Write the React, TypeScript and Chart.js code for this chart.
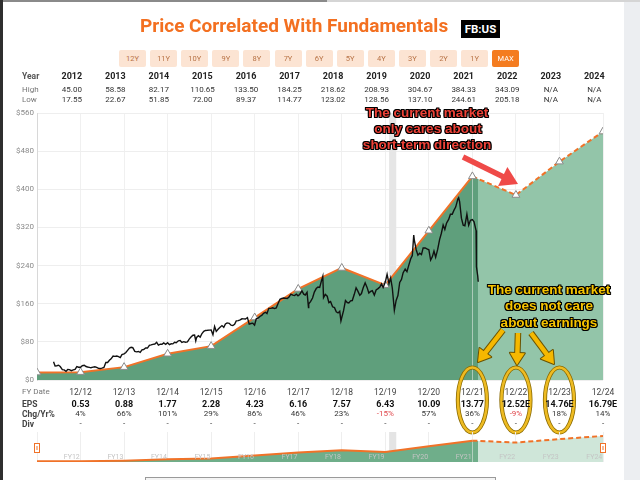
import React, { useEffect, useRef, useState } from 'react';
import { Chart, registerables } from 'chart.js';

Chart.register(...registerables);
Chart.defaults.font.family = 'Roboto';

// ---------- data ----------
const fyDates = ['2011-12-31', '2012-12-31', '2013-12-31', '2014-12-31', '2015-12-31', '2016-12-31', '2017-12-31', '2018-12-31', '2019-12-31', '2020-12-31', '2021-12-31', '2022-12-31', '2023-12-31', '2024-12-31'];
const fairValue = [15.5, 16.5, 27, 55, 71, 131, 191, 235, 199, 313, 427, 388, 458, 521];
const lastActualIndex = 10; // 12/21: solid until here, dashed (estimates) after

const years = ['2012', '2013', '2014', '2015', '2016', '2017', '2018', '2019', '2020', '2021', '2022', '2023', '2024'];
const highs = ['45.00', '58.58', '82.17', '110.65', '133.50', '184.25', '218.62', '208.93', '304.67', '384.33', '343.09', 'N/A', 'N/A'];
const lows = ['17.55', '22.67', '51.85', '72.00', '89.37', '114.77', '123.02', '128.56', '137.10', '244.61', '205.18', 'N/A', 'N/A'];
const fyLabels = ['12/12', '12/13', '12/14', '12/15', '12/16', '12/17', '12/18', '12/19', '12/20', '12/21', '12/22', '12/23', '12/24'];
const epsValues = ['0.53', '0.88', '1.77', '2.28', '4.23', '6.16', '7.57', '6.43', '10.09', '13.77', '12.52E', '14.76E', '16.79E'];
const chgValues = ['4%', '66%', '101%', '29%', '86%', '46%', '23%', '-15%', '57%', '36%', '-9%', '18%', '14%'];
const divValues = ['-', '-', '-', '-', '-', '-', '-', '-', '-', '-', '-', '-', '-'];
const navLabels = ['FY12', 'FY13', 'FY14', 'FY15', 'FY16', 'FY17', 'FY18', 'FY19', 'FY20', 'FY21', 'FY22', 'FY23', 'FY24'];
const rangeButtons = ['12Y', '11Y', '10Y', '9Y', '8Y', '7Y', '6Y', '5Y', '4Y', '3Y', '2Y', '1Y', 'MAX'];
const yTickValues = [0, 80, 160, 240, 320, 400, 480, 560];
const bandRange = ['2020-02-01', '2020-04-01'];

const priceDates = [
  '2012-05-18', '2012-05-31', '2012-06-15', '2012-06-29', '2012-07-13', '2012-07-31', '2012-08-15', '2012-08-31', '2012-09-14', '2012-09-28', '2012-10-15', '2012-10-31', '2012-11-15', '2012-11-30', '2012-12-14', '2012-12-31',
  '2013-01-15', '2013-01-31', '2013-02-15', '2013-02-28', '2013-03-15', '2013-03-28', '2013-04-15', '2013-04-30', '2013-05-15', '2013-05-31', '2013-06-14', '2013-06-28', '2013-07-15', '2013-07-31', '2013-08-15', '2013-08-30', '2013-09-13', '2013-09-30', '2013-10-15', '2013-10-31', '2013-11-15', '2013-11-29', '2013-12-13', '2013-12-31',
  '2014-01-15', '2014-01-31', '2014-02-14', '2014-02-28', '2014-03-14', '2014-03-31', '2014-04-15', '2014-04-30', '2014-05-15', '2014-05-30', '2014-06-13', '2014-06-30', '2014-07-15', '2014-07-31', '2014-08-15', '2014-08-29', '2014-09-15', '2014-09-30', '2014-10-15', '2014-10-31', '2014-11-14', '2014-11-28', '2014-12-15', '2014-12-31',
  '2015-01-15', '2015-01-30', '2015-02-13', '2015-02-27', '2015-03-13', '2015-03-31', '2015-04-15', '2015-04-30', '2015-05-15', '2015-05-29', '2015-06-15', '2015-06-30', '2015-07-15', '2015-07-31', '2015-08-14', '2015-08-24', '2015-08-31', '2015-09-15', '2015-09-30', '2015-10-15', '2015-10-30', '2015-11-13', '2015-11-30', '2015-12-15', '2015-12-31',
  '2016-01-15', '2016-01-29', '2016-02-12', '2016-02-29', '2016-03-15', '2016-03-31', '2016-04-15', '2016-04-29', '2016-05-13', '2016-05-31', '2016-06-15', '2016-06-30', '2016-07-15', '2016-07-29', '2016-08-15', '2016-08-31', '2016-09-15', '2016-09-30', '2016-10-14', '2016-10-31', '2016-11-15', '2016-11-30', '2016-12-15', '2016-12-30',
  '2017-01-13', '2017-01-31', '2017-02-15', '2017-02-28', '2017-03-15', '2017-03-31', '2017-04-13', '2017-04-28', '2017-05-15', '2017-05-31', '2017-06-15', '2017-06-30', '2017-07-14', '2017-07-31', '2017-08-15', '2017-08-31', '2017-09-15', '2017-09-29', '2017-10-13', '2017-10-31', '2017-11-15', '2017-11-30', '2017-12-15', '2017-12-29',
  '2018-01-12', '2018-01-31', '2018-02-15', '2018-02-28', '2018-03-15', '2018-03-27', '2018-03-29', '2018-04-13', '2018-04-30', '2018-05-15', '2018-05-31', '2018-06-15', '2018-06-29', '2018-07-13', '2018-07-25', '2018-07-31', '2018-08-15', '2018-08-31', '2018-09-14', '2018-09-28', '2018-10-15', '2018-10-31', '2018-11-15', '2018-11-30', '2018-12-14', '2018-12-24', '2018-12-31',
  '2019-01-15', '2019-01-31', '2019-02-15', '2019-02-28', '2019-03-15', '2019-03-29', '2019-04-15', '2019-04-30', '2019-05-15', '2019-05-31', '2019-06-14', '2019-06-28', '2019-07-15', '2019-07-31', '2019-08-15', '2019-08-30', '2019-09-13', '2019-09-30', '2019-10-15', '2019-10-31', '2019-11-15', '2019-11-29', '2019-12-13', '2019-12-31',
  '2020-01-15', '2020-01-31', '2020-02-14', '2020-02-28', '2020-03-16', '2020-03-31', '2020-04-15', '2020-04-30', '2020-05-15', '2020-05-29', '2020-06-15', '2020-06-30', '2020-07-15', '2020-07-31', '2020-08-14', '2020-08-26', '2020-08-31', '2020-09-15', '2020-09-30', '2020-10-15', '2020-10-30', '2020-11-13', '2020-11-30', '2020-12-15', '2020-12-31',
  '2021-01-15', '2021-01-29', '2021-02-12', '2021-02-26', '2021-03-15', '2021-03-31', '2021-04-15', '2021-04-30', '2021-05-14', '2021-05-28', '2021-06-15', '2021-06-30', '2021-07-15', '2021-07-30', '2021-08-13', '2021-08-31', '2021-09-07', '2021-09-15', '2021-09-30', '2021-10-15', '2021-10-29', '2021-11-15', '2021-11-30', '2021-12-15', '2021-12-31',
  '2022-01-14', '2022-01-31', '2022-02-03', '2022-02-14', '2022-02-18',
];
const priceValues = [
  38.2, 29.6, 30.0, 31.1, 28.3, 21.7, 21.2, 18.1, 22.0, 21.7, 19.5, 21.1, 22.2, 28.0, 26.8, 26.6,
  30.1, 31.0, 28.3, 27.3, 26.6, 25.6, 26.9, 27.8, 26.6, 24.4, 24.0, 24.9, 26.3, 36.8, 36.6, 41.3, 44.3, 50.2, 49.5, 50.2, 49.0, 47.0, 53.3, 54.7,
  57.6, 62.6, 67.1, 68.5, 67.7, 60.2, 59.1, 59.8, 57.9, 63.3, 63.9, 67.3, 67.0, 72.7, 73.6, 74.8, 75.4, 79.0, 73.0, 75.0, 74.9, 77.7, 74.7, 78.0,
  74.1, 75.9, 75.7, 79.0, 78.1, 82.2, 83.0, 78.8, 80.4, 79.2, 79.8, 85.8, 90.0, 94.0, 94.2, 82.1, 89.4, 92.9, 89.9, 97.5, 102.0, 103.9, 104.2, 104.6, 104.7,
  95.0, 112.2, 102.0, 106.9, 110.5, 114.1, 110.5, 117.6, 119.8, 118.8, 114.9, 114.3, 116.9, 123.9, 124.4, 126.1, 128.4, 128.3, 127.9, 131.0, 117.2, 118.4, 119.2, 115.1,
  128.3, 130.3, 133.8, 135.5, 139.7, 142.1, 139.4, 150.3, 150.2, 151.5, 149.8, 151.0, 160.0, 169.3, 171.0, 172.0, 171.6, 170.9, 173.7, 180.1, 177.9, 177.2, 180.2, 176.5,
  179.4, 186.9, 180.0, 178.3, 183.9, 152.2, 159.8, 164.5, 172.0, 184.3, 191.8, 195.1, 194.3, 207.3, 217.5, 172.6, 179.5, 175.7, 162.3, 164.5, 153.5, 151.8, 143.2, 140.6, 144.1, 124.1, 131.1,
  145.4, 166.7, 162.5, 161.5, 166.0, 166.7, 179.7, 193.4, 186.3, 177.5, 181.3, 193.0, 203.9, 194.2, 182.6, 185.7, 187.2, 178.1, 188.9, 191.7, 195.1, 201.6, 194.1, 205.3,
  221.8, 201.9, 214.2, 192.5, 146.0, 166.8, 177.0, 204.7, 210.9, 225.1, 232.5, 227.1, 240.3, 253.7, 261.2, 303.9, 293.2, 273.7, 261.9, 265.9, 263.1, 277.0, 277.0, 275.0, 273.2,
  251.4, 258.3, 270.5, 257.6, 273.8, 294.5, 307.8, 325.1, 315.9, 328.7, 336.8, 347.7, 347.6, 356.3, 362.7, 379.4, 382.2, 373.9, 339.4, 324.8, 323.6, 347.6, 324.5, 334.9, 336.4,
  331.9, 313.3, 237.8, 217.7, 206.2,
];

// ---------- helpers ----------
function toYear(d: string): number {
  const [y, m, day] = d.split('-').map(Number);
  const s = Date.UTC(y, 0, 1);
  const e = Date.UTC(y + 1, 0, 1);
  return y + (Date.UTC(y, m - 1, day) - s) / (e - s);
}
const X_MIN = toYear(fyDates[0]);
const X_MAX = toYear(fyDates[fyDates.length - 1]);
const LAST_PRICE_X = toYear(priceDates[priceDates.length - 1]);

const ORANGE = '#f07228';

const splitFill = (dark: string, light: string) => (ctx: any) => {
  const chart = ctx.chart;
  const area = chart.chartArea;
  if (!area) return dark;
  const cut = chart.scales.x.getPixelForValue(LAST_PRICE_X);
  const t = Math.min(1, Math.max(0, (cut - area.left) / (area.right - area.left)));
  const g = chart.ctx.createLinearGradient(area.left, 0, area.right, 0);
  g.addColorStop(0, dark);
  g.addColorStop(t, dark);
  g.addColorStop(t, light);
  g.addColorStop(1, light);
  return g;
};

const bandPlugin = (color: string) => ({
  id: 'band',
  beforeDatasetsDraw(chart: any) {
    const { ctx, chartArea: a, scales } = chart;
    const x0 = scales.x.getPixelForValue(toYear(bandRange[0]));
    const x1 = scales.x.getPixelForValue(toYear(bandRange[1]));
    ctx.save();
    ctx.fillStyle = color;
    ctx.fillRect(x0, a.top, x1 - x0, a.bottom - a.top);
    ctx.restore();
  },
});

function drawArrow(ctx: CanvasRenderingContext2D, x0: number, y0: number, x1: number, y1: number, color: string, width: number, head: number, outline?: string) {
  const ang = Math.atan2(y1 - y0, x1 - x0);
  const bx = x1 - head * Math.cos(ang);
  const by = y1 - head * Math.sin(ang);
  const hw = head * 0.62;
  const shaft = () => {
    ctx.beginPath();
    ctx.moveTo(x0, y0);
    ctx.lineTo(bx + Math.cos(ang), by + Math.sin(ang));
  };
  const headPath = () => {
    ctx.beginPath();
    ctx.moveTo(x1, y1);
    ctx.lineTo(bx + hw * Math.sin(ang), by - hw * Math.cos(ang));
    ctx.lineTo(bx - hw * Math.sin(ang), by + hw * Math.cos(ang));
    ctx.closePath();
  };
  ctx.save();
  ctx.lineCap = 'butt';
  ctx.lineJoin = 'round';
  if (outline) {
    ctx.strokeStyle = outline;
    ctx.lineWidth = width + 2;
    shaft();
    ctx.stroke();
    ctx.lineWidth = 2;
    headPath();
    ctx.stroke();
  }
  ctx.strokeStyle = color;
  ctx.lineWidth = width;
  shaft();
  ctx.stroke();
  ctx.fillStyle = color;
  headPath();
  ctx.fill();
  ctx.restore();
}

const annotationPlugin = {
  id: 'annotations',
  afterDraw(chart: any) {
    const { ctx, scales } = chart;
    // ellipses around 12/21, 12/22, 12/23 columns
    [10, 11, 12].forEach((i) => {
      const cx = scales.x.getPixelForValue(toYear(fyDates[i]));
      ctx.save();
      ctx.beginPath();
      ctx.ellipse(cx, 400, 14.5, 32.5, 0, 0, Math.PI * 2);
      ctx.strokeStyle = '#8a6a00';
      ctx.lineWidth = 4.2;
      ctx.stroke();
      ctx.strokeStyle = '#eebb22';
      ctx.lineWidth = 2.6;
      ctx.stroke();
      ctx.restore();
    });
    // red arrow
    drawArrow(ctx, 463, 157, 518, 184, '#ef4a48', 5.5, 17);
    // yellow arrows
    drawArrow(ctx, 503, 330, 478, 362, '#f5b800', 4.5, 12, '#6a5200');
    drawArrow(ctx, 518, 333, 517, 365, '#f5b800', 4.5, 12, '#6a5200');
    drawArrow(ctx, 531, 333, 554, 364, '#f5b800', 4.5, 12, '#6a5200');
  },
};

const handlesPlugin = {
  id: 'handles',
  afterDraw(chart: any) {
    const { ctx, chartArea: a } = chart;
    [a.left, a.right].forEach((x: number) => {
      ctx.save();
      ctx.fillStyle = '#fff';
      ctx.strokeStyle = ORANGE;
      ctx.lineWidth = 1;
      ctx.fillRect(x - 3, 18, 6, 10);
      ctx.strokeRect(x - 2.5, 18.5, 5, 9);
      ctx.beginPath();
      ctx.moveTo(x, 21);
      ctx.lineTo(x, 25);
      ctx.stroke();
      ctx.restore();
    });
  },
};

const outline = '0 0 1px #000, 1px 1px 0 #000, -1px -1px 0 #000, 1px -1px 0 #000, -1px 1px 0 #000, 0 1px 0 #000, 0 -1px 0 #000, 1px 0 0 #000, -1px 0 0 #000';

const C = ({ x, y, children, style }: any) => (
  <div style={{ position: 'absolute', left: x, top: y, transform: 'translate(-50%, -50%)', whiteSpace: 'nowrap', lineHeight: 1, ...style }}>{children}</div>
);
const L = ({ x, y, children, style }: any) => (
  <div style={{ position: 'absolute', left: x, top: y, transform: 'translateY(-50%)', whiteSpace: 'nowrap', lineHeight: 1, ...style }}>{children}</div>
);

export default function App() {
  const mainRef = useRef<HTMLCanvasElement>(null);
  const navRef = useRef<HTMLCanvasElement>(null);
  const [cols, setCols] = useState<number[]>([]);
  const [yearCols, setYearCols] = useState<number[]>([]);

  useEffect(() => {
    document.body.style.margin = '0';
    const priceData = priceDates.map((d, i) => ({ x: toYear(d), y: priceValues[i] }));
    const fairData = () => fyDates.map((d, i) => ({ x: toYear(d), y: fairValue[i] }));
    const dash = (c: any) => (c.p0DataIndex >= lastActualIndex ? [5, 3] : undefined);
    const fyTicks = (scale: any) => {
      scale.ticks = fyDates.map((d) => ({ value: toYear(d) }));
    };

    const main = new Chart(mainRef.current as HTMLCanvasElement, {
      type: 'line',
      data: {
        datasets: [
          {
            label: 'Price',
            data: priceData,
            borderColor: '#111',
            borderWidth: 1.4,
            pointRadius: 0,
            fill: false,
            tension: 0,
            order: 0,
          },
          {
            label: 'Fair value',
            data: fairData(),
            borderColor: ORANGE,
            borderWidth: 2,
            pointStyle: 'triangle',
            pointRadius: 4.5,
            pointBackgroundColor: '#fff',
            pointBorderColor: '#8a8a8a',
            pointBorderWidth: 1,
            fill: 'origin',
            backgroundColor: splitFill('#5f9f7c', '#93c5a9'),
            segment: { borderDash: dash },
            tension: 0,
            order: 1,
          } as any,
        ],
      },
      options: {
        animation: false,
        responsive: false,
        maintainAspectRatio: false,
        events: [],
        layout: { padding: { left: 8, right: 37, top: 113, bottom: 100 } },
        plugins: { legend: { display: false }, tooltip: { enabled: false } },
        scales: {
          x: {
            type: 'linear',
            min: X_MIN,
            max: X_MAX,
            afterBuildTicks: fyTicks,
            ticks: { display: false },
            grid: { color: '#f0f0f0', drawTicks: false },
            border: { display: false },
            afterFit: (s: any) => { s.height = 0; },
          },
          y: {
            min: 0,
            max: 560,
            afterBuildTicks: (s: any) => { s.ticks = yTickValues.map((v) => ({ value: v })); },
            ticks: { callback: (v: any) => '$' + v, color: '#8a8a8a', font: { size: 8 }, padding: 3 },
            grid: { color: '#eeeeee', drawTicks: false },
            border: { color: '#d8d8d8' },
            afterFit: (s: any) => { s.width = 29; },
          },
        },
      } as any,
      plugins: [bandPlugin('#e6e6e6'), annotationPlugin],
    });

    const nav = new Chart(navRef.current as HTMLCanvasElement, {
      type: 'line',
      data: {
        datasets: [
          {
            data: fairData(),
            borderColor: ORANGE,
            borderWidth: 2,
            pointRadius: 0,
            fill: 'origin',
            backgroundColor: splitFill('#6fae8a', '#cfe6d9'),
            segment: { borderDash: dash },
            tension: 0,
          } as any,
        ],
      },
      options: {
        animation: false,
        responsive: false,
        maintainAspectRatio: false,
        events: [],
        layout: { padding: { left: 37, right: 37, top: 7, bottom: 13 } },
        plugins: { legend: { display: false }, tooltip: { enabled: false } },
        scales: {
          x: {
            type: 'linear',
            min: X_MIN,
            max: X_MAX,
            afterBuildTicks: fyTicks,
            ticks: { display: false },
            grid: { color: '#eeeeee', drawTicks: false },
            border: { display: false },
            afterFit: (s: any) => { s.height = 0; },
          },
          y: { min: 0, max: 600, display: false },
        },
      } as any,
      plugins: [bandPlugin('#e4e4e4'), handlesPlugin],
    });

    setCols(fyDates.slice(1).map((d) => main.scales.x.getPixelForValue(toYear(d))));
    setYearCols(fyDates.slice(1).map((d) => main.scales.x.getPixelForValue(toYear(d) - 0.2)));

    return () => {
      main.destroy();
      nav.destroy();
    };
  }, []);

  const labelStyle = { fontSize: 8, color: '#777' };
  const boldLabel = { fontSize: 8.5, color: '#444', fontWeight: 700 };
  const annRed = { fontFamily: '"Liberation Sans", Arial, sans-serif', fontWeight: 700, fontSize: 13.5, color: '#ee4238', textShadow: outline };
  const annYellow = { fontFamily: '"Liberation Sans", Arial, sans-serif', fontWeight: 700, fontSize: 13.5, color: '#f6c300', textShadow: outline };

  return (
    <div style={{ position: 'absolute', left: 0, top: 0, width: 640, height: 480, background: '#fff', overflow: 'hidden', fontFamily: 'Roboto, sans-serif' }}>
      {/* page frame */}
      <div style={{ position: 'absolute', left: 624, top: 0, width: 16, height: 480, background: '#eceef1' }} />
      <div style={{ position: 'absolute', left: 0, top: 0, width: 327, height: 2, background: '#8a8a8a' }} />
      <div style={{ position: 'absolute', left: 327, top: 0, width: 313, height: 2, background: '#d5d5d5' }} />
      <div style={{ position: 'absolute', left: 0, top: 0, width: 3, height: 480, background: '#2e2e2e' }} />
      <div style={{ position: 'absolute', left: 145, top: 477, width: 349, height: 6, border: '1px solid #9a9a9a', background: '#f4f4f4' }} />

      <canvas ref={mainRef} width={640} height={480} style={{ position: 'absolute', left: 0, top: 0 }} />
      <canvas ref={navRef} width={640} height={50} style={{ position: 'absolute', left: 0, top: 425 }} />

      {/* title */}
      <div style={{ position: 'absolute', left: 140, top: 16, fontSize: 19, lineHeight: '20px', fontWeight: 700, color: '#f37021', whiteSpace: 'nowrap' }}>
        Price Correlated With Fundamentals
      </div>
      <div style={{ position: 'absolute', left: 461, top: 20, width: 39, height: 18, background: '#000', color: '#fff', fontWeight: 700, fontSize: 11.5, lineHeight: '18px', textAlign: 'center' }}>
        FB:US
      </div>

      {/* range buttons */}
      {rangeButtons.map((b, i) => (
        <div key={b} style={{ position: 'absolute', left: 119 + i * 31.1, top: 50, width: 27, height: 17, borderRadius: 2, background: b === 'MAX' ? '#f47c20' : '#fce4d3', color: b === 'MAX' ? '#fff' : '#b87346', fontSize: 7.5, lineHeight: '17px', textAlign: 'center' }}>
          {b}
        </div>
      ))}

      {/* year / high / low table */}
      <L x={22} y={76} style={{ ...boldLabel, color: '#555' }}>Year</L>
      <L x={22} y={90} style={labelStyle}>High</L>
      <L x={22} y={100} style={labelStyle}>Low</L>
      {yearCols.map((x, i) => (
        <React.Fragment key={'y' + i}>
          <C x={x} y={76} style={{ fontSize: 9, fontWeight: 700, color: '#222' }}>{years[i]}</C>
          <C x={x} y={90} style={{ fontSize: 8, color: '#333' }}>{highs[i]}</C>
          <C x={x} y={100} style={{ fontSize: 8, color: '#333' }}>{lows[i]}</C>
        </React.Fragment>
      ))}

      {/* FY table */}
      <L x={22} y={392} style={labelStyle}>FY Date</L>
      <L x={22} y={404} style={boldLabel}>EPS</L>
      <L x={22} y={414} style={boldLabel}>Chg/Yr%</L>
      <L x={22} y={424} style={boldLabel}>Div</L>
      {cols.map((x, i) => (
        <React.Fragment key={'f' + i}>
          <C x={x} y={392} style={{ fontSize: 8.5, color: '#444' }}>{fyLabels[i]}</C>
          <C x={x} y={404} style={{ fontSize: 9, fontWeight: 700, color: '#111' }}>{epsValues[i]}</C>
          <C x={x} y={414} style={{ fontSize: 8, color: chgValues[i].startsWith('-') ? '#e0474c' : '#333' }}>{chgValues[i]}</C>
          <C x={x} y={424} style={{ fontSize: 8, color: '#333' }}>{divValues[i]}</C>
        </React.Fragment>
      ))}

      {/* navigator labels */}
      {yearCols.map((x, i) => (
        <C key={'n' + i} x={x} y={457} style={{ fontSize: 7, color: '#c4c4c4' }}>{navLabels[i]}</C>
      ))}

      {/* annotations */}
      <C x={427} y={113} style={annRed}>The current market</C>
      <C x={428} y={129} style={annRed}>only cares about</C>
      <C x={427} y={145} style={annRed}>short-term direction</C>
      <C x={549} y={290} style={annYellow}>The current market</C>
      <C x={549} y={306} style={annYellow}>does not care</C>
      <C x={549} y={323} style={annYellow}>about earnings</C>
    </div>
  );
}
